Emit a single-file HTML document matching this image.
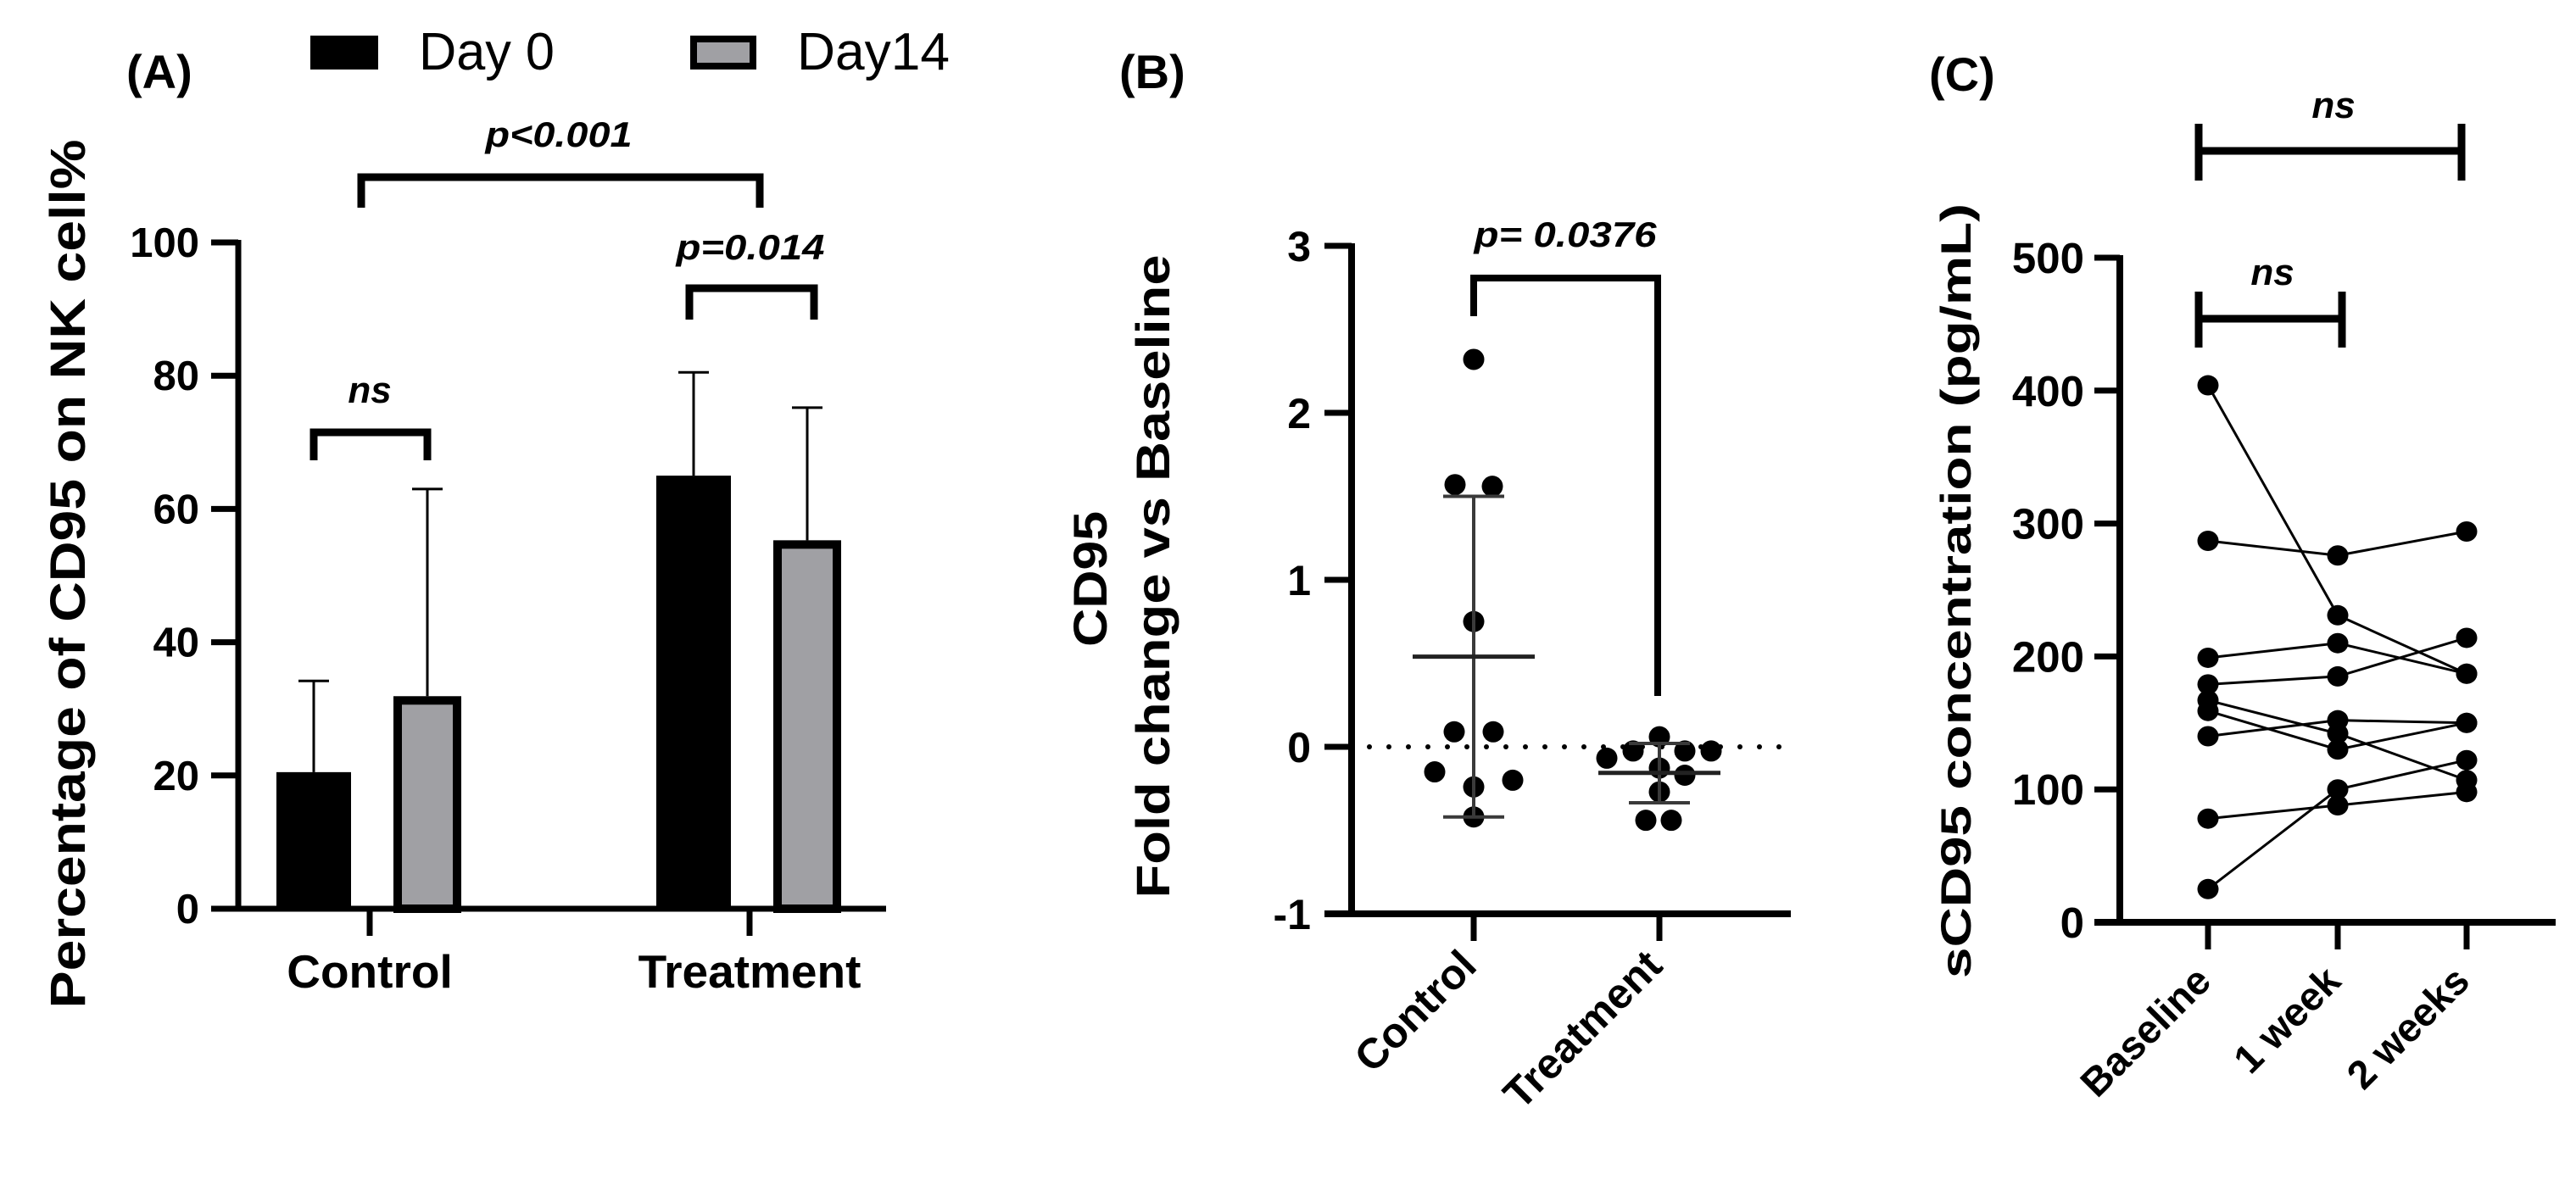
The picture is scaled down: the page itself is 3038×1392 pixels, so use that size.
<!DOCTYPE html>
<html><head><meta charset="utf-8"><style>
html,body{margin:0;padding:0;background:#fff}
svg{display:block}
text{font-family:"Liberation Sans",Arial,sans-serif;fill:#000}
</style></head><body>
<svg id="fig" width="3038" height="1392" viewBox="0 0 3038 1392" xmlns="http://www.w3.org/2000/svg">
<g id="pa"></g>
<g id="pb"></g>
<g id="pc"></g>
</svg>
<script>
// Panel A data
const aGroups = ["Control", "Treatment"];
const aDay0 = [20.5, 65];
const aDay0Err = [34.2, 80.5];
const aDay14 = [31.9, 55.3];
const aDay14Err = [63, 75.2];
const aTicks = [0, 20, 40, 60, 80, 100];
// Panel B data
const bGroups = ["Control", "Treatment"];
const bControl = [2.32, 1.57, 1.56, 0.75, 0.09, 0.09, -0.15, -0.2, -0.24, -0.42];
const bTreatment = [0.06, -0.025, -0.025, -0.025, -0.068, -0.127, -0.17, -0.27, -0.44, -0.44];
const bMean = [0.54, -0.156];
const bSdHi = [1.5, 0.02];
const bSdLo = [-0.42, -0.335];
const bTicks = [-1, 0, 1, 2, 3];
// Panel C data
const cTimes = ["Baseline", "1 week", "2 weeks"];
const cBaseline = [404, 287, 199, 179, 167, 159, 140, 78, 25];
const cWeek1 = [231, 276, 210, 185, 142, 130, 152, 88, 100];
const cWeek2 = [187, 294, 187, 214, 107, 150, 150, 98, 122];
const cTicks = [0, 100, 200, 300, 400, 500];

const NS = "http://www.w3.org/2000/svg";
function mk(parent, tag, attrs, name) {
  const el = document.createElementNS(NS, tag);
  for (const k in attrs) el.setAttribute(k, attrs[k]);
  
  
  parent.appendChild(el);
  return el;
}
function txt(parent, x, y, s, size, opts, name) {
  opts = opts || {};
  const a = {x: x, y: y, 'font-size': size, 'font-weight': opts.w || 'bold', 'text-anchor': opts.anchor || 'middle'};
  if (opts.italic) a['font-style'] = 'italic';
  if (opts.len) { a.textLength = opts.len; a.lengthAdjust = 'spacingAndGlyphs'; }
  if (opts.tr) a.transform = opts.tr;
  const el = mk(parent, 'text', a, name);
  el.textContent = s;
  return el;
}
function line(p, x1, y1, x2, y2, w, name, col) {
  return mk(p, 'line', {x1: x1, y1: y1, x2: x2, y2: y2, stroke: col || '#000', 'stroke-width': w}, name);
}
function bracket(p, x1, x2, y, yd, name) {
  return mk(p, 'path', {d: `M${x1},${yd} V${y} H${x2} V${yd}`, fill: 'none', stroke: '#000', 'stroke-width': 9}, name);
}

// ---------- Panel A ----------
const A = document.getElementById('pa');
const ay = v => 1072 - v * 7.86;
const aCenters = [436, 884];
const aOff = [-66, 68];
const aBarW = [88, 80];
txt(A, 149, 104, "(A)", 56, {anchor: 'start'}, 'panel-a-label');
mk(A, 'rect', {x: 366, y: 42, width: 80, height: 40, fill: '#000'}, 'legend-swatch-day0');
txt(A, 494, 82, "Day 0", 62, {w: 'normal', anchor: 'start', len: 160}, 'legend-label-day0');
mk(A, 'rect', {x: 818, y: 46, width: 70, height: 32, fill: '#a0a0a4', stroke: '#000', 'stroke-width': 8}, 'legend-swatch-day14');
txt(A, 940, 82, "Day14", 62, {w: 'normal', anchor: 'start', len: 180}, 'legend-label-day14');
txt(A, 100, 677, "Percentage of  CD95 on NK cell%", 58, {tr: 'rotate(-90 100 677)', len: 1025}, 'y-axis-title-a');
aTicks.forEach(t => {
  line(A, 249, ay(t), 281, ay(t), 7, 'y-tick-a');
  txt(A, 235, ay(t) + 17, String(t), 49, {anchor: 'end'}, 'y-tick-label-a');
});
aGroups.forEach((g, i) => {
  const c = aCenters[i];
  const x0 = c + aOff[0] - aBarW[0] / 2;
  mk(A, 'rect', {x: x0, y: ay(aDay0[i]), width: aBarW[0], height: ay(0) - ay(aDay0[i]), fill: '#000'}, 'bar-day0-' + g.toLowerCase());
  line(A, c + aOff[0], ay(aDay0[i]), c + aOff[0], ay(aDay0Err[i]), 3, 'error-bar-day0');
  line(A, c + aOff[0] - 18, ay(aDay0Err[i]), c + aOff[0] + 18, ay(aDay0Err[i]), 3, 'error-cap-day0');
  const x1 = c + aOff[1] - aBarW[1] / 2;
  line(A, c + aOff[1], ay(aDay14[i]), c + aOff[1], ay(aDay14Err[i]), 3, 'error-bar-day14');
  line(A, c + aOff[1] - 18, ay(aDay14Err[i]), c + aOff[1] + 18, ay(aDay14Err[i]), 3, 'error-cap-day14');
  mk(A, 'rect', {x: x1 + 5, y: ay(aDay14[i]) + 5, width: aBarW[1] - 10, height: ay(0) - ay(aDay14[i]) - 5, fill: '#a0a0a4', stroke: '#000', 'stroke-width': 10}, 'bar-day14-' + g.toLowerCase());
  line(A, c, 1072, c, 1104, 7, 'x-tick-a');
  txt(A, c, 1165, g, 55, {}, 'x-tick-label-a');
});
line(A, 281, ay(100) - 3, 281, 1075, 7, 'y-axis-a');
line(A, 249, 1072, 1045, 1072, 7, 'x-axis-a');
bracket(A, 370, 504, 510, 543, 'bracket-control-ns');
txt(A, 436, 475, "ns", 44, {italic: true}, 'sig-label-control-ns');
bracket(A, 813, 960, 340, 377, 'bracket-treatment');
txt(A, 885, 306, "p=0.014", 42, {italic: true, len: 175}, 'sig-label-treatment');
bracket(A, 426, 896, 209, 245, 'bracket-between-groups');
txt(A, 659, 173, "p<0.001", 42, {italic: true, len: 173}, 'sig-label-between-groups');

// ---------- Panel B ----------
const B = document.getElementById('pb');
const by = v => 881 - v * 197;
const bCenters = [1738, 1957];
const bCtrlOff = [0, -22, 22, 0, -23, 23, -46, 46, 0, 0];
const bTrtOff = [0, -31, 30, 61, -62, 0, 30, 0, -16, 14];
txt(B, 1320, 104, "(B)", 56, {anchor: 'start'}, 'panel-b-label');
txt(B, 1305, 683, "CD95", 56, {tr: 'rotate(-90 1305 683)', len: 160}, 'y-axis-title-b-line1');
txt(B, 1379, 680, "Fold change vs Baseline", 56, {tr: 'rotate(-90 1379 680)', len: 759}, 'y-axis-title-b-line2');
bTicks.forEach(t => {
  line(B, 1562, by(t), 1594, by(t), 7, 'y-tick-b');
  txt(B, 1546, by(t) + 18, String(t), 50, {anchor: 'end'}, 'y-tick-label-b');
});
for (let x = 1615; x < 2110; x += 23) mk(B, 'circle', {cx: x, cy: by(0), r: 3, fill: '#000'}, 'zero-reference-dot');
line(B, 1594, by(3) - 3, 1594, by(-1) + 3, 8, 'y-axis-b');
line(B, 1562, by(-1), 2112, by(-1), 8, 'x-axis-b');
[bControl, bTreatment].forEach((arr, i) => {
  const c = bCenters[i];
  const offs = i === 0 ? bCtrlOff : bTrtOff;
  arr.forEach((v, j) => {
    mk(B, 'circle', {cx: c + offs[j], cy: by(v), r: 12.5, fill: '#000'}, 'point-' + bGroups[i].toLowerCase());
  });
  const sw = 36;
  line(B, c, by(bSdHi[i]), c, by(bSdLo[i]), 4, 'sd-line', '#3a3a3a');
  line(B, c - sw, by(bSdHi[i]), c + sw, by(bSdHi[i]), 4, 'sd-cap-upper', '#3a3a3a');
  line(B, c - sw, by(bSdLo[i]), c + sw, by(bSdLo[i]), 4, 'sd-cap-lower', '#3a3a3a');
  line(B, c - 72, by(bMean[i]), c + 72, by(bMean[i]), 5, 'mean-line', '#222');
  line(B, c, by(-1), c, 1110, 7, 'x-tick-b');
  txt(B, c + 6, 1142, bGroups[i], 50, {anchor: 'end', tr: `rotate(-45 ${c + 6} 1142)`}, 'x-tick-label-b');
});
mk(B, 'path', {d: `M1738,373 V328 H1955 V821`, fill: 'none', stroke: '#000', 'stroke-width': 8}, 'bracket-b');
txt(B, 1846, 291, "p= 0.0376", 42, {italic: true, len: 215}, 'sig-label-b');

// ---------- Panel C ----------
const C = document.getElementById('pc');
const cy = v => 1088 - v * 1.568;
const cX = [2604, 2757, 2909];
txt(C, 2275, 107, "(C)", 56, {anchor: 'start'}, 'panel-c-label');
txt(C, 2324, 697, "sCD95 concentration (pg/mL)", 50, {tr: 'rotate(-90 2324 697)', len: 914}, 'y-axis-title-c');
cTicks.forEach(t => {
  line(C, 2470, cy(t), 2500, cy(t), 7, 'y-tick-c');
  txt(C, 2458, cy(t) + 18, String(t), 51, {anchor: 'end'}, 'y-tick-label-c');
});
line(C, 2500, cy(500) - 3, 2500, 1091, 8, 'y-axis-c');
line(C, 2470, 1088, 3014, 1088, 8, 'x-axis-c');
const cSeries = [cBaseline, cWeek1, cWeek2];
cBaseline.forEach((v, i) => {
  const pts = cSeries.map((s, k) => cX[k] + ',' + cy(s[i])).join(' ');
  mk(C, 'polyline', {points: pts, fill: 'none', stroke: '#000', 'stroke-width': 3}, 'subject-line');
});
cSeries.forEach((s, k) => s.forEach(v => {
  mk(C, 'ellipse', {cx: cX[k], cy: cy(v), rx: 12.5, ry: 12, fill: '#000'}, 'point-' + cTimes[k].replace(' ', '-').toLowerCase());
}));
cTimes.forEach((t, k) => {
  line(C, cX[k], 1088, cX[k], 1120, 7, 'x-tick-c');
  txt(C, cX[k] + 6, 1160, t, 47, {anchor: 'end', tr: `rotate(-45 ${cX[k] + 6} 1160)`}, 'x-tick-label-c');
});
mk(C, 'path', {d: 'M2593,146 V213 M2593,178 H2903 M2903,146 V213', fill: 'none', stroke: '#000', 'stroke-width': 9}, 'bracket-c-2weeks');
txt(C, 2752, 139, "ns", 44, {italic: true}, 'sig-label-c-2weeks');
mk(C, 'path', {d: 'M2593,344 V410 M2593,376 H2762 M2762,344 V410', fill: 'none', stroke: '#000', 'stroke-width': 9}, 'bracket-c-1week');
txt(C, 2680, 336, "ns", 44, {italic: true}, 'sig-label-c-1week');
</script>
</body></html>
